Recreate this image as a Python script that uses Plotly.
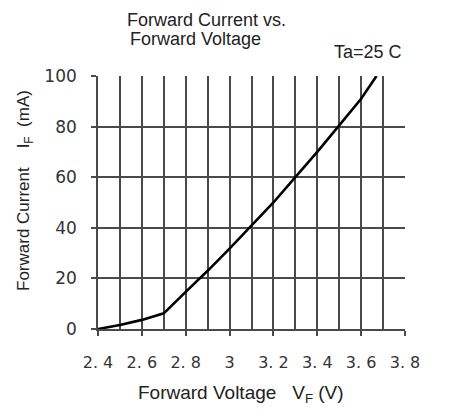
import plotly.graph_objects as go

# Data
voltage = [2.4, 2.5, 2.6, 2.7, 2.8, 2.9, 3.0, 3.1, 3.2, 3.3, 3.4, 3.5, 3.6, 3.67]
current = [0, 1.6, 3.6, 6.2, 14.7, 23, 31.8, 40.8, 50, 60, 70, 80.5, 91, 100]

x_tick_vals = [2.4, 2.6, 2.8, 3.0, 3.2, 3.4, 3.6, 3.8]
x_tick_text = ["2. 4", "2. 6", "2. 8", "3", "3. 2", "3. 4", "3. 6", "3. 8"]
y_tick_vals = [0, 20, 40, 60, 80, 100]

font = "Liberation Sans, Arial, sans-serif"
tickfont = "DejaVu Sans, sans-serif"
grid = "#4a4a4a"

# page body has an 8px offset; the figure is sized to fill the rest of the window
OFF = 8
W, H = 450 - OFF, 419 - OFF
L, T = 98 - OFF, 76 - OFF
R, B = 450 - 405, 419 - 329
PW, PH = W - L - R, H - T - B


def px_x(px):
    return (px - OFF - L) / PW


def px_y(py):
    return (H - B - (py - OFF)) / PH


fig = go.Figure()
fig.add_trace(go.Scatter(x=voltage, y=current, mode="lines",
                         line=dict(color="black", width=2.6),
                         hoverinfo="skip", showlegend=False))

fig.update_layout(
    width=W, height=H,
    margin=dict(l=L, r=R, t=T, b=B),
    paper_bgcolor="white", plot_bgcolor="white",
    font=dict(family=font, color="#2a2a2a"),
    showlegend=False,
)
fig.update_xaxes(
    range=[2.4, 3.8], tickvals=x_tick_vals, ticktext=x_tick_text,
    tickfont=dict(size=16, color="#333", family=tickfont),
    showgrid=True, gridcolor=grid, gridwidth=1.6,
    minor=dict(dtick=0.1, tick0=2.4, showgrid=True, gridcolor=grid, gridwidth=1.6, ticks=""),
    ticks="outside", ticklen=5, tickcolor=grid, tickwidth=1.5,
    showline=True, linecolor=grid, linewidth=1.6, zeroline=False,
    automargin=False, ticklabelstandoff=13,
)
fig.update_yaxes(
    range=[0, 100], tickvals=y_tick_vals,
    tickfont=dict(size=17, color="#333", family=tickfont),
    showgrid=True, gridcolor=grid, gridwidth=1.6,
    ticks="outside", ticklen=5, tickcolor=grid, tickwidth=1.5,
    showline=True, linecolor=grid, linewidth=1.6, zeroline=False,
    automargin=False, ticklabelstandoff=11,
)
fig.add_annotation(text="Forward Current vs.", xref="paper", yref="paper",
                   x=px_x(126), y=px_y(20), xanchor="left", yanchor="middle",
                   showarrow=False, borderpad=0,
                   font=dict(size=18, family=font, color="#222"))
fig.add_annotation(text="Forward Voltage", xref="paper", yref="paper",
                   x=px_x(129), y=px_y(39), xanchor="left", yanchor="middle",
                   showarrow=False, borderpad=0,
                   font=dict(size=18, family=font, color="#222"))
fig.add_annotation(text="Ta=25 C", xref="paper", yref="paper",
                   x=px_x(404), y=px_y(52), xanchor="right", yanchor="middle",
                   showarrow=False, font=dict(size=18, family=font, color="#222"))
fig.add_annotation(text="Forward Voltage   V<sub>F</sub> (V)", xref="paper", yref="paper",
                   x=px_x(241), y=px_y(394), xanchor="center", yanchor="middle",
                   showarrow=False, font=dict(size=19, family=font, color="#222"))
fig.add_annotation(text="Forward Current    I<sub>F</sub>  (mA)", xref="paper", yref="paper",
                   x=px_x(25), y=px_y(191), xanchor="center", yanchor="middle",
                   textangle=-90, showarrow=False, font=dict(size=17, family=font, color="#222"))

fig.write_html("out.html")
